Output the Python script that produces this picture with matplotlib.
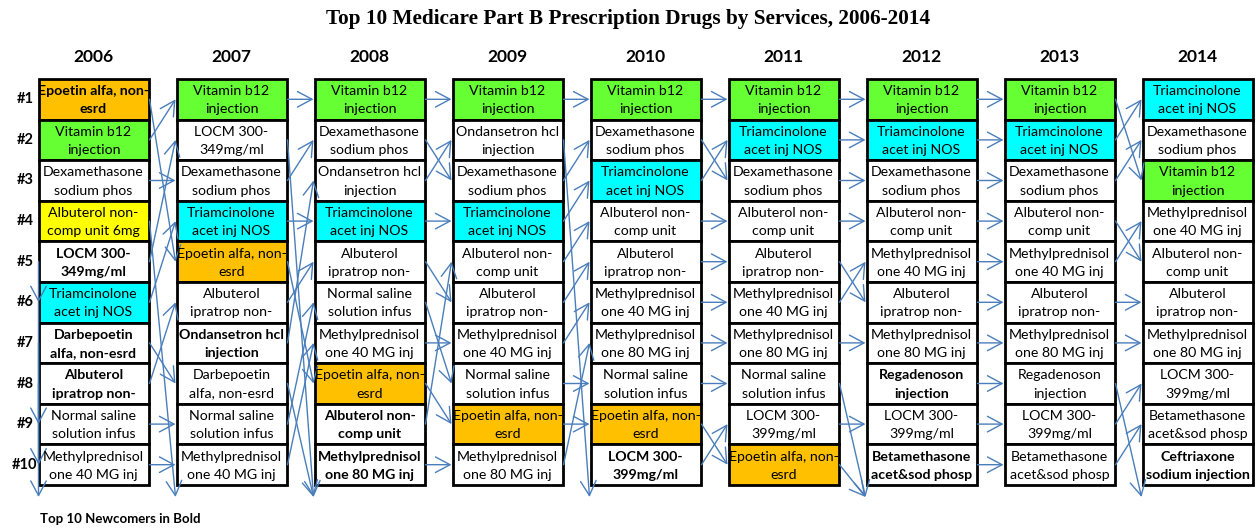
import matplotlib
matplotlib.use("Agg")
import matplotlib.pyplot as plt
from matplotlib.patches import Rectangle, FancyArrowPatch

years = ["2006", "2007", "2008", "2009", "2010", "2011", "2012", "2013", "2014"]

drugs_2006 = ["Epoetin alfa, non-\nesrd", "Vitamin b12\ninjection", "Dexamethasone\nsodium phos",
              "Albuterol non-\ncomp unit 6mg", "LOCM 300-\n349mg/ml", "Triamcinolone\nacet inj NOS",
              "Darbepoetin\nalfa, non-esrd", "Albuterol\nipratrop non-", "Normal saline\nsolution infus",
              "Methylprednisol\none 40 MG inj"]
drugs_2007 = ["Vitamin b12\ninjection", "LOCM 300-\n349mg/ml", "Dexamethasone\nsodium phos",
              "Triamcinolone\nacet inj NOS", "Epoetin alfa, non-\nesrd", "Albuterol\nipratrop non-",
              "Ondansetron hcl\ninjection", "Darbepoetin\nalfa, non-esrd", "Normal saline\nsolution infus",
              "Methylprednisol\none 40 MG inj"]
drugs_2008 = ["Vitamin b12\ninjection", "Dexamethasone\nsodium phos", "Ondansetron hcl\ninjection",
              "Triamcinolone\nacet inj NOS", "Albuterol\nipratrop non-", "Normal saline\nsolution infus",
              "Methylprednisol\none 40 MG inj", "Epoetin alfa, non-\nesrd", "Albuterol non-\ncomp unit",
              "Methylprednisol\none 80 MG inj"]
drugs_2009 = ["Vitamin b12\ninjection", "Ondansetron hcl\ninjection", "Dexamethasone\nsodium phos",
              "Triamcinolone\nacet inj NOS", "Albuterol non-\ncomp unit", "Albuterol\nipratrop non-",
              "Methylprednisol\none 40 MG inj", "Normal saline\nsolution infus", "Epoetin alfa, non-\nesrd",
              "Methylprednisol\none 80 MG inj"]
drugs_2010 = ["Vitamin b12\ninjection", "Dexamethasone\nsodium phos", "Triamcinolone\nacet inj NOS",
              "Albuterol non-\ncomp unit", "Albuterol\nipratrop non-", "Methylprednisol\none 40 MG inj",
              "Methylprednisol\none 80 MG inj", "Normal saline\nsolution infus", "Epoetin alfa, non-\nesrd",
              "LOCM 300-\n399mg/ml"]
drugs_2011 = ["Vitamin b12\ninjection", "Triamcinolone\nacet inj NOS", "Dexamethasone\nsodium phos",
              "Albuterol non-\ncomp unit", "Albuterol\nipratrop non-", "Methylprednisol\none 40 MG inj",
              "Methylprednisol\none 80 MG inj", "Normal saline\nsolution infus", "LOCM 300-\n399mg/ml",
              "Epoetin alfa, non-\nesrd"]
drugs_2012 = ["Vitamin b12\ninjection", "Triamcinolone\nacet inj NOS", "Dexamethasone\nsodium phos",
              "Albuterol non-\ncomp unit", "Methylprednisol\none 40 MG inj", "Albuterol\nipratrop non-",
              "Methylprednisol\none 80 MG inj", "Regadenoson\ninjection", "LOCM 300-\n399mg/ml",
              "Betamethasone\nacet&sod phosp"]
drugs_2013 = ["Vitamin b12\ninjection", "Triamcinolone\nacet inj NOS", "Dexamethasone\nsodium phos",
              "Albuterol non-\ncomp unit", "Methylprednisol\none 40 MG inj", "Albuterol\nipratrop non-",
              "Methylprednisol\none 80 MG inj", "Regadenoson\ninjection", "LOCM 300-\n399mg/ml",
              "Betamethasone\nacet&sod phosp"]
drugs_2014 = ["Triamcinolone\nacet inj NOS", "Dexamethasone\nsodium phos", "Vitamin b12\ninjection",
              "Methylprednisol\none 40 MG inj", "Albuterol non-\ncomp unit", "Albuterol\nipratrop non-",
              "Methylprednisol\none 80 MG inj", "LOCM 300-\n399mg/ml", "Betamethasone\nacet&sod phosp",
              "Ceftriaxone\nsodium injection"]

# newcomers (bold) per year, by rank (1-based)
bold_2006 = [1, 5, 7, 8]
bold_2007 = [7]
bold_2008 = [9, 10]
bold_2009 = []
bold_2010 = [10]
bold_2011 = []
bold_2012 = [8, 10]
bold_2013 = []
bold_2014 = [10]

# arrows entering the 2006 column from an earlier (hidden) year: (from rank, to rank or 0=out)
prior_flows = [(5, 6), (6, 9), (7, 10), (8, 0)]

highlight = {
    "Epoetin alfa, non-\nesrd": "#FFC000",
    "Vitamin b12\ninjection": "#66FF33",
    "Triamcinolone\nacet inj NOS": "#00FFFF",
    "Albuterol non-\ncomp unit 6mg": "#FFFF00",
}

columns = [drugs_2006, drugs_2007, drugs_2008, drugs_2009, drugs_2010,
           drugs_2011, drugs_2012, drugs_2013, drugs_2014]
bolds = [bold_2006, bold_2007, bold_2008, bold_2009, bold_2010,
         bold_2011, bold_2012, bold_2013, bold_2014]

W, H = 1256, 529
fig = plt.figure(figsize=(W / 100, H / 100), dpi=100)
ax = fig.add_axes([0, 0, 1, 1])
ax.set_xlim(0, W)
ax.set_ylim(H, 0)
ax.axis("off")

x0, dx, bw = 38.5, 138, 110
y0, rh = 79, 40.6
arrow_color = "#4A7EBB"
out_y = 497
font_box = "Lato"


def row_center(r):
    return y0 + (r - 0.5) * rh


def arrow(xa, ya, xb, yb):
    a = FancyArrowPatch((xa, ya), (xb, yb), arrowstyle="->,head_length=0.75,head_width=0.4",
                        mutation_scale=14, color=arrow_color, lw=1.0,
                        shrinkA=0, shrinkB=0, zorder=3)
    ax.add_patch(a)


fig.text(0.5, 1 - 19 / H, "Top 10 Medicare Part B Prescription Drugs by Services, 2006-2014",
         ha="center", va="center", fontsize=15.3, fontweight="bold", family="Liberation Serif")

for r in range(1, 11):
    ax.text(25, row_center(r), f"#{r}", ha="center", va="center", fontsize=10.5,
            fontweight="bold", family=font_box)

for ci, (year, col) in enumerate(zip(years, columns)):
    xl = x0 + ci * dx
    ax.text(xl + bw / 2, 57, year, ha="center", va="center", fontsize=12.5,
            fontweight="bold", family=font_box)
    for r, name in enumerate(col, start=1):
        top = y0 + (r - 1) * rh
        ax.add_patch(Rectangle((xl, top), bw, rh, facecolor=highlight.get(name, "white"),
                               edgecolor="black", lw=2.0, zorder=2))
        ax.text(xl + bw / 2, top + rh / 2 + 1.0, name, ha="center", va="center",
                fontsize=10.2, linespacing=1.62, family=font_box,
                fontweight="bold" if r in bolds[ci] else "normal", zorder=4)

# flows between consecutive years
for ci in range(len(columns) - 1):
    xa = x0 + ci * dx + bw + 1
    xb = x0 + (ci + 1) * dx - 1
    nxt = columns[ci + 1]
    for r, name in enumerate(columns[ci], start=1):
        if name in nxt:
            arrow(xa, row_center(r), xb, row_center(nxt.index(name) + 1))
        else:
            arrow(xa, row_center(r), xb, out_y)

# flows into the first column
for ra, rb in prior_flows:
    arrow(x0, row_center(ra), x0 + 0.01, row_center(rb) if rb else out_y)

ax.text(40, 519, "Top 10 Newcomers in Bold", ha="left", va="center", fontsize=9.5,
        fontweight="bold", family=font_box)

fig.savefig("out.png", dpi=100)
